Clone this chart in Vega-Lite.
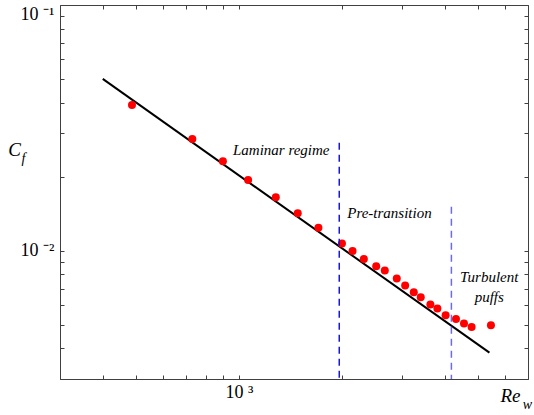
{
  "$schema": "https://vega.github.io/schema/vega-lite/v6.json",
  "width": 468,
  "height": 374,
  "autosize": {"type": "none"},
  "padding": {"left": 60, "top": 5, "right": 6, "bottom": 36},
  "background": "white",
  "config": {
    "view": {"stroke": "#404040", "strokeWidth": 1},
    "text": {"font": "Times"},
    "axis": {
      "grid": false,
      "domain": false,
      "ticks": true,
      "tickColor": "#404040",
      "tickSize": -4,
      "labelFont": "Times",
      "labelFontSize": 18,
      "labelColor": "black",
      "labelOverlap": false,
      "titleFont": "Times",
      "titleFontStyle": "italic",
      "titleFontWeight": "normal",
      "titleColor": "black"
    }
  },
  "datasets": {
    "fit": [
      {"Re": 400, "Cf": 0.05},
      {"Re": 5400, "Cf": 0.00384}
    ],
    "points": [
      {"Re": 487, "Cf": 0.0392},
      {"Re": 731, "Cf": 0.0285},
      {"Re": 898, "Cf": 0.0231},
      {"Re": 1064, "Cf": 0.0194},
      {"Re": 1282, "Cf": 0.0165},
      {"Re": 1486, "Cf": 0.0142},
      {"Re": 1708, "Cf": 0.0124},
      {"Re": 2001, "Cf": 0.01068},
      {"Re": 2149, "Cf": 0.00997},
      {"Re": 2319, "Cf": 0.00925},
      {"Re": 2520, "Cf": 0.00863},
      {"Re": 2670, "Cf": 0.00829},
      {"Re": 2894, "Cf": 0.00769},
      {"Re": 3062, "Cf": 0.00721},
      {"Re": 3245, "Cf": 0.00677},
      {"Re": 3401, "Cf": 0.00646},
      {"Re": 3629, "Cf": 0.00603},
      {"Re": 3804, "Cf": 0.00581},
      {"Re": 4021, "Cf": 0.00546},
      {"Re": 4311, "Cf": 0.00526},
      {"Re": 4550, "Cf": 0.00505},
      {"Re": 4789, "Cf": 0.00489},
      {"Re": 5455, "Cf": 0.00497}
    ],
    "bounds": [
      {"Re": 1965, "top": 0.0275, "bottom": 0.003, "boundary": "laminar / pre-transition"},
      {"Re": 4180, "top": 0.0151, "bottom": 0.003, "boundary": "pre-transition / turbulent"}
    ],
    "notes": [
      {"Re": 1330, "Cf": 0.02574, "label": "Laminar regime"},
      {"Re": 2755, "Cf": 0.01427, "label": "Pre-transition"},
      {"Re": 5393, "Cf": 0.00777, "label": "Turbulent"},
      {"Re": 5393, "Cf": 0.0065, "label": "puffs"}
    ]
  },
  "resolve": {"axis": {"x": "independent", "y": "independent"}},
  "layer": [
    {
      "data": {"name": "fit"},
      "mark": {"type": "line", "color": "black", "strokeWidth": 2},
      "encoding": {
        "x": {
          "field": "Re", "type": "quantitative",
          "scale": {"type": "log", "domain": [300, 7000], "nice": false},
          "axis": {
            "orient": "bottom",
            "values": [300, 400, 500, 600, 700, 800, 900, 1000, 2000, 3000, 4000, 5000, 6000, 7000],
            "labelExpr": "datum.value == 1000 ? '10 ³' : ''",
            "labelPadding": 8,
            "title": "Re",
            "titleFontSize": 19,
            "titleAlign": "center",
            "titleBaseline": "middle",
            "titleAngle": 0,
            "titleX": 450,
            "titleY": 16
          }
        },
        "y": {
          "field": "Cf", "type": "quantitative",
          "scale": {"type": "log", "domain": [0.003, 0.1], "nice": false},
          "axis": {
            "orient": "left",
            "values": [0.003, 0.004, 0.005, 0.006, 0.007, 0.008, 0.009, 0.01, 0.02, 0.03, 0.04, 0.05, 0.06, 0.07, 0.08, 0.09, 0.1],
            "labelExpr": "datum.value == 0.1 ? '10 ⁻¹' : datum.value == 0.01 ? '10 ⁻²' : ''",
            "labelFlush": true,
            "labelPadding": 10,
            "title": "C",
            "titleFontSize": 19,
            "titleAlign": "center",
            "titleBaseline": "middle",
            "titleAngle": 0,
            "titleX": -46,
            "titleY": 144
          }
        }
      }
    },
    {
      "data": {"name": "points"},
      "mark": {"type": "circle", "color": "#ff0000", "opacity": 1, "size": 64},
      "encoding": {
        "x": {
          "field": "Re", "type": "quantitative",
          "scale": {"type": "log", "domain": [300, 7000], "nice": false},
          "axis": {
            "orient": "top",
            "values": [300, 400, 500, 600, 700, 800, 900, 1000, 2000, 3000, 4000, 5000, 6000, 7000],
            "labels": false,
            "title": "w",
            "titleFontSize": 14,
            "titleAlign": "center",
            "titleBaseline": "middle",
            "titleAngle": 0,
            "titleX": 467,
            "titleY": 399
          }
        },
        "y": {
          "field": "Cf", "type": "quantitative",
          "scale": {"type": "log", "domain": [0.003, 0.1], "nice": false},
          "axis": {
            "orient": "right",
            "values": [0.003, 0.004, 0.005, 0.006, 0.007, 0.008, 0.009, 0.01, 0.02, 0.03, 0.04, 0.05, 0.06, 0.07, 0.08, 0.09, 0.1],
            "labels": false,
            "title": "f",
            "titleFontSize": 14,
            "titleAlign": "center",
            "titleBaseline": "middle",
            "titleAngle": 0,
            "titleX": -505,
            "titleY": 153
          }
        }
      }
    },
    {
      "data": {"name": "bounds"},
      "mark": {"type": "rule", "strokeWidth": 1.5, "strokeDash": [7, 5]},
      "encoding": {
        "x": {"field": "Re", "type": "quantitative", "axis": null},
        "y": {"field": "top", "type": "quantitative", "axis": null},
        "y2": {"field": "bottom"},
        "color": {
          "field": "boundary", "type": "nominal", "legend": null,
          "scale": {"domain": ["laminar / pre-transition", "pre-transition / turbulent"], "range": ["#1a1ad6", "#6a6af5"]}
        }
      }
    },
    {
      "data": {"name": "notes"},
      "mark": {"type": "text", "font": "Times", "fontStyle": "italic", "fontSize": 15, "align": "center", "baseline": "middle", "color": "black"},
      "encoding": {
        "x": {"field": "Re", "type": "quantitative", "axis": null},
        "y": {"field": "Cf", "type": "quantitative", "axis": null},
        "text": {"field": "label"}
      }
    }
  ]
}
